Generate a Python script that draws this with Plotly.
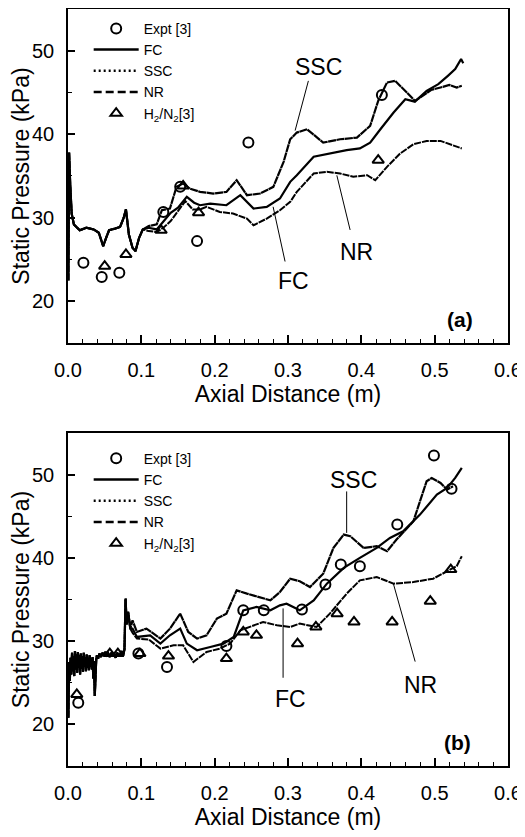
import plotly.graph_objects as go
from plotly.subplots import make_subplots

# ---------------- panel (a) ----------------
# shared inlet part of the three computed curves
a_inlet_x = [0.0005, 0.0015, 0.003, 0.005, 0.008, 0.016, 0.025, 0.035, 0.042, 0.048, 0.052,
             0.056, 0.064, 0.071, 0.076, 0.079, 0.083, 0.088, 0.092, 0.097, 0.102]
a_inlet_y = [22.5, 37.8, 34.0, 30.5, 29.2, 28.5, 28.8, 28.6, 28.2, 26.6, 27.6,
             28.5, 28.7, 28.9, 30.0, 31.0, 28.0, 26.4, 26.0, 27.6, 28.6]

a_fc_x = [0.110, 0.121, 0.130, 0.140, 0.150, 0.162, 0.172, 0.180, 0.194, 0.216, 0.235, 0.253,
          0.271, 0.289, 0.303, 0.312, 0.335, 0.357, 0.380, 0.398, 0.412, 0.426, 0.444, 0.460,
          0.473, 0.489, 0.505, 0.518, 0.528, 0.536, 0.539]
a_fc_y = [28.8, 28.6, 29.5, 30.6, 31.2, 32.5, 31.8, 31.5, 31.7, 31.5, 32.7, 31.1,
          31.3, 32.3, 34.3, 35.1, 37.3, 37.7, 38.1, 38.3, 39.0, 40.6, 42.6, 44.2,
          43.9, 45.2, 46.0, 47.0, 47.8, 49.0, 48.5]

a_ssc_x = [0.110, 0.121, 0.128, 0.139, 0.148, 0.157, 0.166, 0.180, 0.198, 0.216, 0.230, 0.244,
           0.262, 0.280, 0.294, 0.303, 0.312, 0.326, 0.348, 0.371, 0.394, 0.412, 0.423, 0.435,
           0.446, 0.462, 0.473, 0.482, 0.495, 0.508, 0.520, 0.530, 0.537]
a_ssc_y = [29.0, 29.2, 30.9, 31.1, 33.7, 34.1, 33.5, 33.1, 32.9, 33.1, 34.5, 32.7,
           32.9, 33.7, 36.7, 39.4, 40.2, 40.6, 39.0, 39.4, 39.6, 41.0, 44.0, 46.2,
           46.4, 45.0, 44.0, 44.5, 45.3, 45.6, 45.9, 45.6, 45.8]

a_nr_x = [0.110, 0.121, 0.130, 0.140, 0.150, 0.160, 0.170, 0.180, 0.189, 0.207, 0.225, 0.244,
          0.253, 0.271, 0.289, 0.303, 0.312, 0.335, 0.353, 0.371, 0.389, 0.408, 0.419, 0.435,
          0.453, 0.471, 0.489, 0.508, 0.537]
a_nr_y = [28.4, 28.3, 28.8, 29.6, 30.8, 32.0, 31.0, 31.0, 31.3, 30.7, 30.5, 29.9,
          29.1, 29.9, 30.9, 31.9, 33.1, 35.3, 35.5, 35.3, 34.9, 35.1, 34.5, 36.1,
          37.7, 38.8, 39.2, 39.2, 38.3]

a_expt_x = [0.021, 0.046, 0.070, 0.130, 0.153, 0.176, 0.246, 0.428]
a_expt_y = [24.6, 22.9, 23.4, 30.7, 33.7, 27.2, 39.0, 44.7]
a_h2n2_x = [0.050, 0.079, 0.127, 0.157, 0.178, 0.423]
a_h2n2_y = [24.2, 25.6, 28.5, 33.8, 30.6, 36.9]

# ---------------- panel (b) ----------------
b_inlet_x = [0.0005, 0.0015, 0.0025, 0.0035, 0.0045, 0.0055, 0.0065, 0.0075, 0.0085, 0.0095,
             0.0105, 0.0115, 0.0125, 0.0135, 0.0145, 0.0155, 0.0165, 0.0175, 0.0185, 0.0195,
             0.0205, 0.0215, 0.0225, 0.0235, 0.0245, 0.0255, 0.0265, 0.0275, 0.0285, 0.0295,
             0.0305, 0.0315, 0.0325, 0.0335, 0.0345, 0.0355, 0.0365, 0.0375, 0.0385, 0.0395,
             0.041, 0.043, 0.045, 0.047, 0.049, 0.051, 0.053, 0.055, 0.057, 0.059,
             0.061, 0.063, 0.065, 0.067, 0.069, 0.071, 0.073, 0.075, 0.077, 0.0785,
             0.080, 0.082, 0.085]
b_inlet_y = [20.8, 27.5, 25.2, 28.0, 26.0, 28.6, 26.4, 28.2, 25.8, 28.8,
             26.6, 28.4, 26.2, 28.7, 26.8, 28.3, 26.0, 28.5, 26.7, 28.2,
             26.3, 28.6, 26.9, 28.1, 26.4, 28.4, 26.8, 28.0, 26.5, 28.3,
             26.9, 27.9, 26.6, 28.1, 25.5, 27.6, 23.4, 26.0, 27.8, 28.3,
             27.9, 28.5, 28.1, 28.6, 28.2, 28.7, 28.3, 28.5, 28.1, 28.6,
             28.2, 28.5, 28.0, 28.6, 28.3, 28.4, 28.8, 28.2, 29.0, 35.1,
             32.0, 33.5, 31.5]

b_fc_x = [0.088, 0.094, 0.112, 0.126, 0.139, 0.153, 0.162, 0.176, 0.194, 0.212, 0.226, 0.239,
          0.257, 0.276, 0.289, 0.298, 0.316, 0.335, 0.353, 0.376, 0.398, 0.421, 0.439, 0.457,
          0.480, 0.503, 0.517, 0.528, 0.537]
b_fc_y = [31.5, 30.5, 30.7, 29.7, 30.7, 31.5, 29.7, 28.9, 29.3, 29.7, 30.5, 33.7,
          34.1, 33.7, 34.3, 34.5, 33.7, 34.9, 36.9, 38.8, 40.0, 41.2, 42.4, 43.2,
          45.2, 47.6, 48.4, 49.6, 50.8]

b_ssc_x = [0.088, 0.094, 0.107, 0.126, 0.139, 0.153, 0.164, 0.176, 0.189, 0.203, 0.216, 0.230,
           0.244, 0.262, 0.276, 0.289, 0.303, 0.316, 0.330, 0.348, 0.362, 0.376, 0.385, 0.403,
           0.421, 0.435, 0.448, 0.471, 0.489, 0.496, 0.508, 0.517, 0.525]
b_ssc_y = [32.5, 31.1, 31.5, 30.3, 31.5, 33.3, 31.1, 30.3, 30.7, 32.7, 33.3, 36.1,
           35.7, 35.3, 34.9, 35.9, 37.5, 37.2, 36.5, 38.1, 41.2, 42.8, 42.6, 41.2,
           41.4, 40.8, 42.2, 44.4, 49.2, 49.6, 49.0, 48.2, 48.6]

b_nr_x = [0.088, 0.094, 0.110, 0.126, 0.144, 0.157, 0.171, 0.189, 0.207, 0.221, 0.235, 0.253,
          0.266, 0.285, 0.303, 0.316, 0.339, 0.357, 0.380, 0.398, 0.421, 0.444, 0.471, 0.498,
          0.519, 0.530, 0.537]
b_nr_y = [31.0, 30.3, 30.2, 29.1, 29.5, 29.5, 27.5, 28.7, 29.1, 29.7, 31.3, 31.9,
          32.3, 31.9, 31.7, 32.1, 31.7, 33.3, 35.7, 37.3, 37.7, 36.9, 37.1, 37.5,
          38.5, 39.0, 40.2]

b_expt_x = [0.014, 0.096, 0.135, 0.216, 0.239, 0.267, 0.319, 0.351, 0.372, 0.398, 0.449, 0.499, 0.523]
b_expt_y = [22.6, 28.5, 26.9, 29.4, 33.7, 33.7, 33.8, 36.8, 39.2, 39.0, 44.0, 52.3, 48.3]
b_h2n2_x = [0.012, 0.057, 0.068, 0.098, 0.137, 0.216, 0.239, 0.257, 0.313, 0.338, 0.367,
            0.390, 0.442, 0.494, 0.522]
b_h2n2_y = [23.6, 28.5, 28.5, 28.5, 28.2, 27.9, 31.1, 30.7, 29.7, 31.7, 33.3,
            32.3, 32.3, 34.8, 38.6]

FONT = "Arial, Liberation Sans, sans-serif"
BLACK = "black"

fig = make_subplots(rows=2, cols=1)

panels = [
    dict(row=1, legend="legend", inlet=(a_inlet_x, a_inlet_y),
         fc=(a_fc_x, a_fc_y), ssc=(a_ssc_x, a_ssc_y), nr=(a_nr_x, a_nr_y),
         expt=(a_expt_x, a_expt_y), h2=(a_h2n2_x, a_h2n2_y)),
    dict(row=2, legend="legend2", inlet=(b_inlet_x, b_inlet_y),
         fc=(b_fc_x, b_fc_y), ssc=(b_ssc_x, b_ssc_y), nr=(b_nr_x, b_nr_y),
         expt=(b_expt_x, b_expt_y), h2=(b_h2n2_x, b_h2n2_y)),
]

for p in panels:
    r, lg = p["row"], p["legend"]
    ix, iy = p["inlet"]
    # legend entries (clear line styles), then the actual curves
    fig.add_trace(go.Scatter(x=p["expt"][0], y=p["expt"][1], mode="markers", name="Expt [3]",
                             marker=dict(symbol="circle-open", size=10, color=BLACK, line=dict(width=2)),
                             legend=lg), row=r, col=1)
    fig.add_trace(go.Scatter(x=[None], y=[None], mode="lines", name="FC",
                             line=dict(color=BLACK, width=2.5), legend=lg), row=r, col=1)
    fig.add_trace(go.Scatter(x=[None], y=[None], mode="lines", name="SSC",
                             line=dict(color=BLACK, width=2.5, dash="2px,3px"), legend=lg), row=r, col=1)
    fig.add_trace(go.Scatter(x=[None], y=[None], mode="lines", name="NR",
                             line=dict(color=BLACK, width=2.5, dash="8px,4px"), legend=lg), row=r, col=1)
    fig.add_trace(go.Scatter(x=p["h2"][0], y=p["h2"][1], mode="markers", name="H<sub>2</sub>/N<sub>2</sub>[3]",
                             marker=dict(symbol="triangle-up-open", size=10, color=BLACK, line=dict(width=2)),
                             legend=lg), row=r, col=1)
    fig.add_trace(go.Scatter(x=ix + p["nr"][0], y=iy + p["nr"][1], mode="lines", showlegend=False,
                             line=dict(color=BLACK, width=2, dash="7px,1px")), row=r, col=1)
    fig.add_trace(go.Scatter(x=ix + p["ssc"][0], y=iy + p["ssc"][1], mode="lines", showlegend=False,
                             line=dict(color=BLACK, width=2.2, dash="8px,0.5px")), row=r, col=1)
    fig.add_trace(go.Scatter(x=ix + p["fc"][0], y=iy + p["fc"][1], mode="lines", showlegend=False,
                             line=dict(color=BLACK, width=2.2)), row=r, col=1)

xaxis_style = dict(range=[0, 0.6], dtick=0.1, tick0=0, tickformat=".1f", ticks="inside", ticklen=8,
                   tickwidth=1.5, tickcolor=BLACK, showline=True, linewidth=1.5, linecolor=BLACK,
                   mirror=True, showgrid=False, zeroline=False, ticklabelstandoff=8, automargin=False,
                   tickfont=dict(family=FONT, size=20, color=BLACK),
                   minor=dict(dtick=0.02, ticks="inside", ticklen=4, tickcolor=BLACK, tickwidth=1),
                   title=dict(text="Axial Distance (m)", font=dict(family=FONT, size=23, color=BLACK)))
yaxis_style = dict(range=[15, 55], dtick=10, tick0=0, ticks="inside", ticklen=7, tickwidth=1.5,
                   tickcolor=BLACK, showline=True, linewidth=1.5, linecolor=BLACK, mirror=True,
                   showgrid=False, zeroline=False, ticklabelstandoff=8, automargin=False,
                   tickfont=dict(family=FONT, size=20, color=BLACK),
                   minor=dict(dtick=5, ticks="inside", ticklen=4, tickcolor=BLACK, tickwidth=1),
                   title=dict(text="Static Pressure (kPa)", standoff=6,
                              font=dict(family=FONT, size=23, color=BLACK)))

fig.update_xaxes(**xaxis_style)
fig.update_yaxes(**yaxis_style)
fig.update_xaxes(title_standoff=6, row=1, col=1)
fig.update_xaxes(title_standoff=0, row=2, col=1)
fig.update_yaxes(domain=[0.5588, 1.0], row=1, col=1)
fig.update_yaxes(domain=[0.0, 0.4399], row=2, col=1)

# curve labels with leader lines
labels = [
    ("x", "y", "SSC", 0.3415, 48.0, (0.3278, 46.39, 0.3097, 40.44)),
    ("x", "y", "FC", 0.307, 22.4, (0.296, 24.76, 0.2797, 31.31)),
    ("x", "y", "NR", 0.394, 25.95, (0.3847, 28.54, 0.3666, 35.08)),
    ("x2", "y2", "SSC", 0.3888, 49.4, (0.380, 47.98, 0.380, 43.0)),
    ("x2", "y2", "FC", 0.3029, 23.0, (0.2933, 25.6, 0.2933, 33.93)),
    ("x2", "y2", "NR", 0.480, 24.76, (0.4734, 27.54, 0.4438, 36.87)),
]
for xr, yr, txt, tx, ty, (x0, y0, x1, y1) in labels:
    fig.add_annotation(x=tx, y=ty, xref=xr, yref=yr, text=txt, showarrow=False,
                       font=dict(family=FONT, size=23, color=BLACK))
    fig.add_shape(type="line", xref=xr, yref=yr, x0=x0, y0=y0, x1=x1, y1=y1,
                  line=dict(color=BLACK, width=1))

fig.add_annotation(x=0.535, y=17.86, xref="x", yref="y", text="<b>(a)</b>", showarrow=False,
                   font=dict(family=FONT, size=21, color=BLACK))
fig.add_annotation(x=0.531, y=17.86, xref="x2", yref="y2", text="<b>(b)</b>", showarrow=False,
                   font=dict(family=FONT, size=21, color=BLACK))

legend_style = dict(x=0.047, xanchor="left", yanchor="top", bgcolor="rgba(0,0,0,0)",
                    borderwidth=0, itemwidth=45, tracegroupgap=0,
                    font=dict(family=FONT, size=14, color=BLACK))

# the page body adds an 8px offset, so the figure is 8px smaller on each axis
fig.update_layout(
    width=517, height=829,
    margin=dict(l=60, r=17, t=1, b=71, autoexpand=False),
    plot_bgcolor="white", paper_bgcolor="white",
    legend=dict(y=0.995, **legend_style),
    legend2=dict(y=0.427, **legend_style),
)

fig.write_html("out.html")
